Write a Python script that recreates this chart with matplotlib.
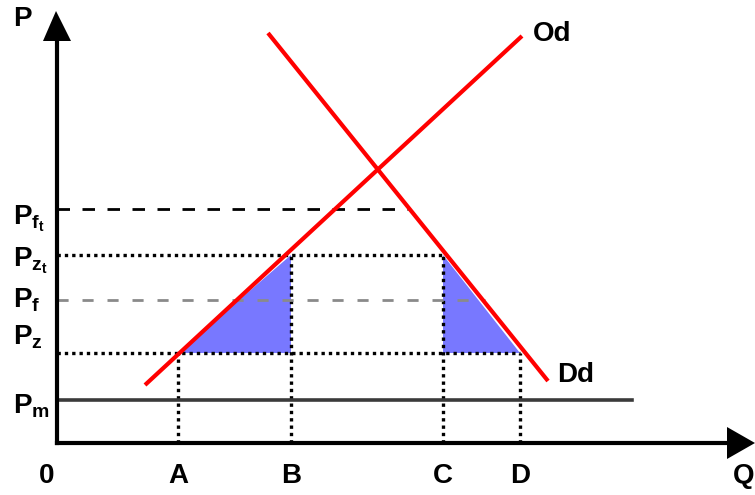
import matplotlib
matplotlib.use("Agg")
import matplotlib.pyplot as plt

# quantities on the Q axis (origin at 0)
Q_TICKS = ["0", "A", "B", "C", "D"]
Q_VALUES = [0, 121, 234, 386, 463]
# price levels on the P axis
P_LABELS = [r"$P_{f_t}$", r"$P_{z_t}$", r"$P_f$", r"$P_z$", r"$P_m$"]
P_PM, P_PZ, P_PF, P_PZT, P_PFT = 43, 90, 143, 188, 234

# supply (Od) and demand (Dd) endpoints
OD_Q = [88, 465]
OD_P = [58, 407]
DD_Q = [211, 491]
DD_P = [410, 62]

RED = "#ff0000"
BLUE = "#7878ff"

plt.rcParams.update({
    "font.family": ["Liberation Sans Narrow", "Liberation Sans", "DejaVu Sans"],
    "font.weight": "bold",
    "mathtext.fontset": "custom",
    "mathtext.default": "bf",
    "mathtext.bf": "Liberation Sans:bold",
    "mathtext.rm": "Liberation Sans:bold",
    "mathtext.it": "Liberation Sans:bold",
})

fig = plt.figure(figsize=(7.55, 4.95), dpi=100)
ax = fig.add_axes([0, 0, 1, 1])
ax.set_xlim(-57, 698)
ax.set_ylim(-52, 443)
ax.axis("off")

_, qa, qb, qc, qd = Q_VALUES

# welfare triangles
ax.fill([qa, qb, qb], [P_PZ, P_PZT, P_PZ], color=BLUE, lw=0, zorder=1)
ax.fill([qc, qc, qd], [P_PZT, P_PZ, P_PZ], color=BLUE, lw=0, zorder=1)

dot = dict(color="black", lw=2.4, linestyle=(0, (1, 1.2)), dash_capstyle="butt", zorder=2)
ax.plot([0, qd], [P_PZ, P_PZ], **dot)
ax.plot([0, qc], [P_PZT, P_PZT], **dot)
ax.plot([qa, qa], [0, P_PZ], **dot)
ax.plot([qb, qb], [0, P_PZT], **dot)
ax.plot([qc, qc], [0, P_PZT], **dot)
ax.plot([qd, qd], [0, P_PZ], **dot)

ax.plot([0, 351], [P_PFT, P_PFT], color="black", lw=2.0,
        linestyle=(0, (4.5, 4.5)), dash_capstyle="butt", zorder=2)
ax.plot([0, 428], [P_PF, P_PF], color="#8a8a8a", lw=2.0,
        linestyle=(0, (4, 5)), dash_capstyle="butt", zorder=2)

# world price
ax.plot([0, 575], [P_PM, P_PM], color="#3a3a3a", lw=2.6, zorder=2)

# curves
ax.plot(OD_Q, OD_P, color=RED, lw=3.0, solid_capstyle="butt", zorder=3)
ax.plot(DD_Q, DD_P, color=RED, lw=3.0, solid_capstyle="butt", zorder=3)

# axes with arrowheads
ax.plot([0, 0], [0, 410], color="black", lw=3, zorder=4)
ax.plot([0, 680], [0, 0], color="black", lw=3, zorder=4)
ax.fill([-14, 14, -1], [402, 402, 432], color="black", lw=0, zorder=4)
ax.fill([670, 670, 698], [-16, 16, 0], color="black", lw=0, zorder=4)

fs = 20
ax.text(-35, 424, "P", fontsize=fs, ha="center", va="center")
ax.text(697, -33, "Q", fontsize=fs, ha="right", va="center")
for lab, q in zip(Q_TICKS, Q_VALUES):
    ax.text(q if q else -10, -33, lab, fontsize=fs, ha="center", va="center")

p_pos = [P_PFT - 10, P_PZT - 6, P_PF, P_PZ + 16, P_PM - 6]
for lab, p in zip(P_LABELS, p_pos):
    ax.text(-44, p, lab, fontsize=fs, ha="left", va="center")

ax.text(OD_Q[1] + 11, OD_P[1] + 2, "Od", fontsize=fs, ha="left", va="center")
ax.text(DD_Q[1] + 9, DD_P[1] + 6, "Dd", fontsize=fs, ha="left", va="center")

fig.savefig("out.png", dpi=100)
